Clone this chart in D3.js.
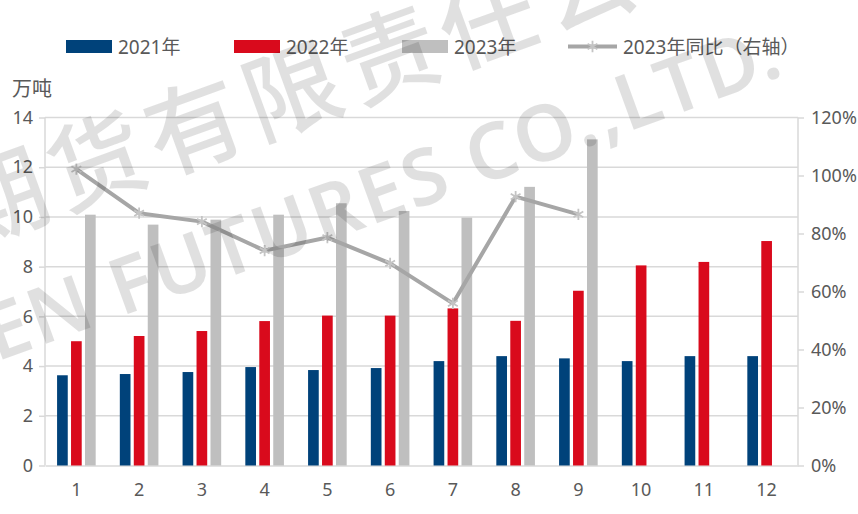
<!DOCTYPE html>
<html>
<head>
<meta charset="utf-8">
<script src="https://cdn.jsdelivr.net/npm/d3@7"></script>
<style>
  body { margin: 0; background: #fff; }
  text { font-family: "Noto Sans", "Noto Sans CJK SC", sans-serif; fill: #595959; }
</style>
</head>
<body>
<svg width="858" height="514"></svg>
<script>
var months = ["1","2","3","4","5","6","7","8","9","10","11","12"];
var y2021 = [3.63, 3.68, 3.76, 3.96, 3.84, 3.92, 4.2, 4.4, 4.31, 4.2, 4.4, 4.4];
var y2022 = [5.0, 5.21, 5.41, 5.81, 6.03, 6.03, 6.32, 5.82, 7.03, 8.05, 8.19, 9.03];
var y2023 = [10.09, 9.69, 9.89, 10.09, 10.55, 10.24, 9.97, 11.21, 13.12];
var yoy2023 = [1.022, 0.87, 0.841, 0.741, 0.786, 0.697, 0.559, 0.927, 0.866];
var leftTicks = [0, 2, 4, 6, 8, 10, 12, 14];
var rightTicks = [0, 0.2, 0.4, 0.6, 0.8, 1.0, 1.2];

var seriesNames = ["2021年", "2022年", "2023年"];
var colors = ["#00427a", "#d90a1c", "#bfbfbf"];
var lineColor = "#a6a6a6", markerColor = "#c4c4c4", gridColor = "#d9d9d9";

var svg = d3.select("svg"),
    margin = {top: 117.5, right: 60, bottom: 48.5, left: 45},
    width = 858 - margin.left - margin.right,
    height = 514 - margin.top - margin.bottom;

var g = svg.append("g").attr("transform", "translate(" + margin.left + "," + margin.top + ")");

var x = d3.scaleBand().domain(months).range([0, width]).padding(0);
var xs = d3.scaleBand().domain([0, 1, 2]).range([-19.3, 19.3]).paddingInner(0.235);
var yL = d3.scaleLinear().domain([0, 14]).range([height, 0]);
var yR = d3.scaleLinear().domain([0, 1.2]).range([height, 0]);

// gridlines
g.append("g").selectAll("line")
  .data(leftTicks.filter(function(d) { return d > 0; }))
  .enter().append("line")
    .attr("x1", 0).attr("x2", width)
    .attr("y1", function(d) { return yL(d); })
    .attr("y2", function(d) { return yL(d); })
    .style("stroke", gridColor).style("stroke-width", "1.5px");

// axes
var axL = g.append("g").call(d3.axisLeft(yL).tickValues(leftTicks).tickSize(6).tickPadding(6));
var axR = g.append("g").attr("transform", "translate(" + width + ",0)")
  .call(d3.axisRight(yR).tickValues(rightTicks).tickSize(6).tickPadding(7).tickFormat(d3.format(".0%")));
var axB = g.append("g").attr("transform", "translate(0," + height + ")")
  .call(d3.axisBottom(x).tickSize(0).tickPadding(18));

[axL, axR, axB].forEach(function(a) {
  a.selectAll("path, line").style("stroke", gridColor).style("stroke-width", "1.5px");
  a.selectAll("text").style("font-size", "18px").style("fill", "#595959")
    .style("font-family", "'Noto Sans', sans-serif");
});
axL.select(".domain").attr("d", "M0," + height + "V0");
axR.select(".domain").attr("d", "M0," + height + "V0");

// bars
var seriesData = [y2021, y2022, y2023];
seriesData.forEach(function(vals, si) {
  g.append("g").selectAll("rect")
    .data(vals)
    .enter().append("rect")
      .attr("x", function(d, i) { return x(months[i]) + x.bandwidth() / 2 + xs(si); })
      .attr("width", xs.bandwidth())
      .attr("y", function(d) { return yL(d); })
      .attr("height", function(d) { return height - yL(d); })
      .style("fill", colors[si]);
});

// yoy line
var line = d3.line()
  .x(function(d, i) { return x(months[i]) + x.bandwidth() / 2; })
  .y(function(d) { return yR(d); });

g.append("path")
  .datum(yoy2023)
  .attr("d", line)
  .style("fill", "none")
  .style("stroke", lineColor)
  .style("stroke-width", "4px")
  .style("stroke-linejoin", "round");

var star = d3.symbol().type(d3.symbolAsterisk).size(90);
g.append("g").selectAll("path")
  .data(yoy2023)
  .enter().append("path")
    .attr("d", star)
    .attr("transform", function(d, i) {
      return "translate(" + (x(months[i]) + x.bandwidth() / 2) + "," + yR(d) + ")";
    })
    .style("fill", "none")
    .style("stroke", markerColor)
    .style("stroke-width", "1.8px");

// unit label
svg.append("text")
  .attr("x", 12).attr("y", 96)
  .style("font-size", "20px")
  .style("font-family", "'Noto Sans CJK SC', sans-serif")
  .text("万吨");

// legend
var legendX = [66, 234, 402, 568];
var legendItems = seriesNames.concat(["2023年同比（右轴）"]);
var legend = svg.append("g");
legendItems.forEach(function(name, i) {
  var lx = legendX[i];
  if (i < 3) {
    legend.append("rect").attr("x", lx).attr("y", 40).attr("width", 46).attr("height", 13)
      .style("fill", colors[i]);
  } else {
    legend.append("line").attr("x1", lx).attr("x2", lx + 49).attr("y1", 46.5).attr("y2", 46.5)
      .style("stroke", lineColor).style("stroke-width", "4px");
    legend.append("path").attr("d", star)
      .attr("transform", "translate(" + (lx + 24.5) + ",46.5)")
      .style("fill", "none").style("stroke", markerColor).style("stroke-width", "1.8px");
  }
  legend.append("text")
    .attr("x", i < 3 ? lx + 52 : lx + 55).attr("y", 53.5)
    .style("font-size", "19px")
    .text(name);
});

// watermark (faint, on top like the original)
var wm = svg.append("g").style("pointer-events", "none");
wm.append("text")
  .attr("transform", "translate(100,160) rotate(-20)")
  .attr("x", -156).attr("y", 36)
  .style("font-family", "'Noto Sans CJK SC', sans-serif")
  .style("font-weight", 500)
  .style("font-size", "96px")
  .style("letter-spacing", "8px")
  .style("fill", "#000").style("fill-opacity", 0.12)
  .text("期货有限责任公司");
wm.append("text")
  .attr("transform", "translate(-4,362) rotate(-20)")
  .attr("textLength", 840).attr("lengthAdjust", "spacing")
  .style("font-family", "'Noto Sans', sans-serif")
  .style("font-weight", 600)
  .style("font-size", "78px")
  .style("fill", "#000").style("fill-opacity", 0.12)
  .text("EN FUTURES CO.,LTD.");
</script>
</body>
</html>
